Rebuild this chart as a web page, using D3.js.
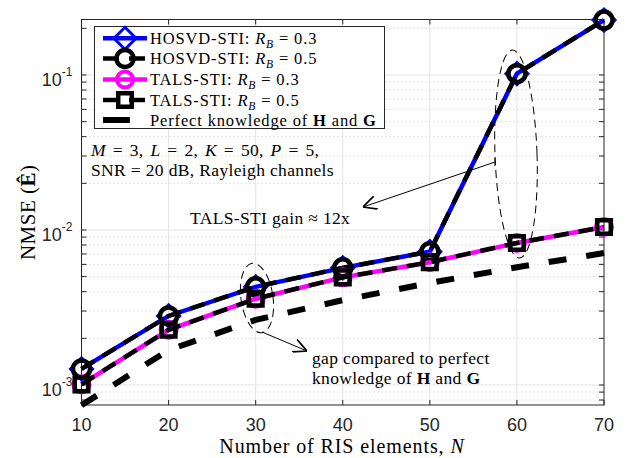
<!DOCTYPE html>
<html>
<head>
<meta charset="utf-8">
<script src="https://cdn.jsdelivr.net/npm/d3@7"></script>
<style>
  body { margin: 0; background: #fff; }
  svg { display: block; }
</style>
</head>
<body>
<script>
  // values
  const nValues = [10, 20, 30, 40, 50, 60, 70];
  const hosvd03 = [1.27e-3, 2.79e-3, 4.3e-3, 5.7e-3, 7.25e-3, 0.102, 0.226];
  const hosvd05 = [1.27e-3, 2.79e-3, 4.3e-3, 5.7e-3, 7.25e-3, 0.102, 0.226];
  const tals03 = [1.01e-3, 2.27e-3, 3.6e-3, 4.95e-3, 6.2e-3, 8.25e-3, 1.045e-2];
  const tals05 = [1.01e-3, 2.27e-3, 3.6e-3, 4.95e-3, 6.2e-3, 8.25e-3, 1.045e-2];
  const perfect = [7.4e-4, 1.68e-3, 2.63e-3, 3.53e-3, 4.55e-3, 5.75e-3, 7.1e-3];
  const xTicks = [10, 20, 30, 40, 50, 60, 70];
  const yTicks = [1e-3, 1e-2, 1e-1];

  const width = 625;
  const height = 458;
  const margin = { left: 81.5, right: 21, top: 19.5, bottom: 53 };

  const svg = d3.select('body')
          .append('svg')
          .attr('width', width)
          .attr('height', height);

  const x = d3.scaleLinear()
          .domain([10, 70])
          .range([margin.left, width - margin.right]);

  const y = d3.scaleLog()
          .domain([7.43e-4, 0.228])
          .range([height - margin.bottom, margin.top]);

  const serif = 'Liberation Serif, Times New Roman, serif';
  const sans = 'Liberation Sans, Arial, sans-serif';

  // grid
  const minor = [];
  for (let e = -4; e <= -1; e++) {
    for (let m = 2; m <= 9; m++) {
      const v = m * Math.pow(10, e);
      if (v > y.domain()[0] && v < y.domain()[1]) minor.push(v);
    }
  }
  const grid = svg.append('g');
  grid.selectAll('.ym')
          .data(minor)
          .enter()
          .append('line')
          .attr('x1', x(10)).attr('x2', x(70))
          .attr('y1', d => y(d)).attr('y2', d => y(d))
          .attr('stroke', '#c8c8c8')
          .attr('stroke-width', 1)
          .attr('stroke-dasharray', '1,3');
  grid.selectAll('.yM')
          .data(yTicks)
          .enter()
          .append('line')
          .attr('x1', x(10)).attr('x2', x(70))
          .attr('y1', d => y(d)).attr('y2', d => y(d))
          .attr('stroke', '#e3e3e3')
          .attr('stroke-width', 1);
  grid.selectAll('.xM')
          .data(xTicks.slice(1, -1))
          .enter()
          .append('line')
          .attr('x1', d => x(d)).attr('x2', d => x(d))
          .attr('y1', y.range()[0]).attr('y2', y.range()[1])
          .attr('stroke', '#e3e3e3')
          .attr('stroke-width', 1);

  // axes box and ticks
  const axisColor = '#262626';
  svg.append('rect')
          .attr('x', x(10)).attr('y', y.range()[1])
          .attr('width', x(70) - x(10))
          .attr('height', y.range()[0] - y.range()[1])
          .attr('fill', 'none')
          .attr('stroke', axisColor)
          .attr('stroke-width', 1);

  const ticks = svg.append('g').attr('stroke', axisColor).attr('stroke-width', 1);
  xTicks.forEach(t => {
    ticks.append('line').attr('x1', x(t)).attr('x2', x(t))
            .attr('y1', y.range()[0]).attr('y2', y.range()[0] - 5);
    ticks.append('line').attr('x1', x(t)).attr('x2', x(t))
            .attr('y1', y.range()[1]).attr('y2', y.range()[1] + 5);
  });
  yTicks.concat(minor).forEach(t => {
    ticks.append('line').attr('x1', x(10)).attr('x2', x(10) + 5)
            .attr('y1', y(t)).attr('y2', y(t));
    ticks.append('line').attr('x1', x(70)).attr('x2', x(70) - 5)
            .attr('y1', y(t)).attr('y2', y(t));
  });

  svg.append('g')
          .selectAll('text')
          .data(xTicks)
          .enter()
          .append('text')
          .attr('x', d => x(d))
          .attr('y', y.range()[0] + 26)
          .attr('text-anchor', 'middle')
          .attr('font-family', sans)
          .attr('font-size', '18px')
          .attr('fill', axisColor)
          .text(d => d);

  const yLab = svg.append('g')
          .selectAll('text')
          .data(yTicks)
          .enter()
          .append('text')
          .attr('x', x(10) - 9)
          .attr('y', d => y(d) + 11)
          .attr('text-anchor', 'end')
          .attr('font-family', sans)
          .attr('font-size', '18px')
          .attr('fill', axisColor);
  yLab.append('tspan').text('10');
  yLab.append('tspan')
          .attr('dy', -10)
          .attr('font-size', '12px')
          .text(d => '-' + (-Math.round(Math.log10(d))));

  // series
  const lineGen = d3.line()
          .x((d, i) => x(nValues[i]))
          .y(d => y(d));

  function diamond(r) {
    return `M0,${-r}L${r},0L0,${r}L${-r},0Z`;
  }
  function circle(r) {
    return `M${r},0A${r},${r} 0 1,1 ${-r},0A${r},${r} 0 1,1 ${r},0Z`;
  }
  function square(r) {
    return `M${-r},${-r}H${r}V${r}H${-r}Z`;
  }

  const series = [
    { label: 'HOSVD-STI: ', rb: '0.3', values: hosvd03, color: '#0000ff', dash: null, lw: 4.5, marker: diamond(11), mw: 3 },
    { label: 'HOSVD-STI: ', rb: '0.5', values: hosvd05, color: '#000000', dash: '15,10', lw: 4.5, marker: circle(8.5), mw: 4.5 },
    { label: 'TALS-STI: ', rb: '0.3', values: tals03, color: '#ff00ff', dash: null, lw: 4.5, marker: circle(8), mw: 4 },
    { label: 'TALS-STI: ', rb: '0.5', values: tals05, color: '#000000', dash: '15,10', lw: 4.5, marker: square(6.8), mw: 4.5 },
    { label: null, values: perfect, color: '#000000', dash: '18,20', lw: 6, marker: null }
  ];

  series.forEach(s => {
    const g = svg.append('g');
    g.append('path')
            .datum(s.values)
            .attr('d', lineGen)
            .attr('fill', 'none')
            .attr('stroke', s.color)
            .attr('stroke-width', s.lw)
            .attr('stroke-dasharray', s.dash);
    if (s.marker) {
      g.selectAll('path.m')
              .data(s.values)
              .enter()
              .append('path')
              .attr('class', 'm')
              .attr('transform', (d, i) => `translate(${x(nValues[i])},${y(d)})`)
              .attr('d', s.marker)
              .attr('fill', 'none')
              .attr('stroke', s.color)
              .attr('stroke-width', s.mw);
    }
  });

  // rich text helper
  function rich(parent, px, py, parts, size, anchor) {
    const t = parent.append('text')
            .attr('x', px).attr('y', py)
            .attr('font-family', serif)
            .attr('font-size', size + 'px')
            .attr('fill', '#000')
            .attr('text-anchor', anchor || 'start');
    parts.forEach(p => {
      const sp = t.append('tspan').text(p[0]);
      if (p[1] === 'i') sp.attr('font-style', 'italic');
      if (p[1] === 'b') sp.attr('font-weight', 'bold');
      if (p[1] === 'sub') sp.attr('font-style', 'italic').attr('font-size', (size * 0.7) + 'px').attr('dy', 4);
      if (p[1] === 'up') sp.attr('dy', -4);
    });
    return t;
  }

  // legend
  const leg = svg.append('g');
  leg.append('rect')
          .attr('x', 94.5).attr('y', 26.5)
          .attr('width', 290).attr('height', 102)
          .attr('fill', '#fff')
          .attr('stroke', axisColor)
          .attr('stroke-width', 1);
  const rowY = [38.3, 58.5, 79.5, 100, 120];
  series.forEach((s, i) => {
    const ry = rowY[i];
    leg.append('line')
            .attr('x1', 103).attr('x2', 147)
            .attr('y1', ry).attr('y2', ry)
            .attr('stroke', s.color)
            .attr('stroke-width', s.lw)
            .attr('stroke-dasharray', s.dash ? (i === 4 ? '27,40' : '16,10') : null);
    if (s.marker) {
      leg.append('path')
              .attr('transform', `translate(125,${ry})`)
              .attr('d', s.marker)
              .attr('fill', 'none')
              .attr('stroke', s.color)
              .attr('stroke-width', s.mw);
    }
    let t;
    if (s.label) {
      t = rich(leg, 150, ry + 5.5, [[s.label], ['R', 'i'], ['B', 'sub'], [' = ' + s.rb, 'up']], 16.5);
    } else {
      t = rich(leg, 150, ry + 5.5, [['Perfect knowledge of '], ['H', 'b'], [' and '], ['G', 'b']], 16.5);
    }
    t.attr('letter-spacing', '0.85px');
  });

  // annotations
  rich(svg, 91, 156, [['M', 'i'], [' = 3, '], ['L', 'i'], [' = 2, '], ['K', 'i'], [' = 50, '], ['P', 'i'], [' = 5,']], 17.5)
          .attr('letter-spacing', '0.3px').attr('word-spacing', '2.2px');
  rich(svg, 91, 176, [['SNR = 20 dB, Rayleigh channels']], 17.5).attr('letter-spacing', '0.35px');
  rich(svg, 190, 224, [['TALS-STI gain ≈ 12x']], 17.5).attr('letter-spacing', '0.35px');
  rich(svg, 312, 364, [['gap compared to perfect']], 17.5).attr('letter-spacing', '0.35px');
  rich(svg, 312, 384, [['knowledge of '], ['H', 'b'], [' and '], ['G', 'b']], 17.5).attr('letter-spacing', '0.35px');

  svg.append('defs').append('marker')
          .attr('id', 'arr')
          .attr('viewBox', '0 0 10 10')
          .attr('refX', 10).attr('refY', 5)
          .attr('markerWidth', 14).attr('markerHeight', 14)
          .attr('markerUnits', 'userSpaceOnUse')
          .attr('orient', 'auto')
          .append('path')
          .attr('d', 'M0,0L10,5L0,10')
          .attr('fill', 'none')
          .attr('stroke', '#000')
          .attr('stroke-width', 1.2);

  svg.append('line')
          .attr('x1', 495).attr('y1', 162)
          .attr('x2', 363).attr('y2', 207)
          .attr('stroke', '#000').attr('stroke-width', 1)
          .attr('marker-end', 'url(#arr)');
  svg.append('line')
          .attr('x1', 495).attr('y1', 158)
          .attr('x2', 495).attr('y2', 166)
          .attr('stroke', '#000').attr('stroke-width', 1);
  svg.append('line')
          .attr('x1', 262).attr('y1', 332)
          .attr('x2', 307).attr('y2', 351)
          .attr('stroke', '#000').attr('stroke-width', 1)
          .attr('marker-end', 'url(#arr)');

  svg.append('ellipse')
          .attr('cx', 516).attr('cy', 154)
          .attr('rx', 21).attr('ry', 104)
          .attr('transform', 'rotate(-2,516,154)')
          .attr('fill', 'none')
          .attr('stroke', '#000').attr('stroke-width', 1)
          .attr('stroke-dasharray', '8,5');
  svg.append('ellipse')
          .attr('cx', 257).attr('cy', 298)
          .attr('rx', 16).attr('ry', 35)
          .attr('transform', 'rotate(-8,257,298)')
          .attr('fill', 'none')
          .attr('stroke', '#000').attr('stroke-width', 1)
          .attr('stroke-dasharray', '8,5');

  // axis titles
  rich(svg, 342, 453, [['Number of RIS elements, '], ['N', 'i']], 20, 'middle')
          .attr('letter-spacing', '0.9px');
  const yt = rich(svg, 0, 0, [['NMSE ('], ['Ê', 'b'], [')']], 21, 'middle');
  yt.attr('letter-spacing', '0.5px');
  yt.attr('transform', `translate(35,${(y.range()[0] + y.range()[1]) / 2}) rotate(-90)`);
</script>
</body>
</html>
